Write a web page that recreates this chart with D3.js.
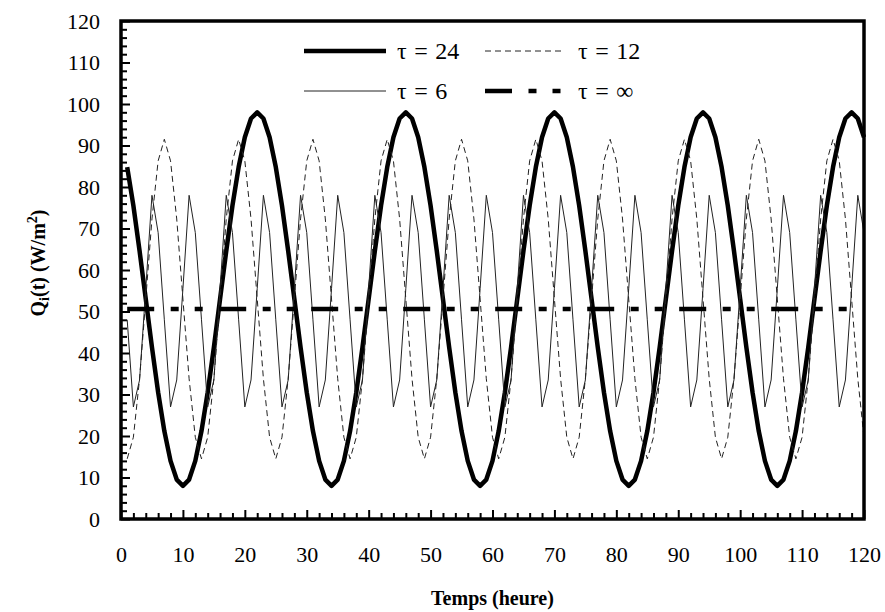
<!DOCTYPE html>
<html>
<head>
<meta charset="utf-8">
<script src="https://cdn.jsdelivr.net/npm/d3@7/dist/d3.min.js"></script>
<style>
    body { margin: 0; background: #fff; }
    svg { display: block; }
    text { font-family: "Liberation Serif", "Times New Roman", serif; fill: #000; }
</style>
</head>
<body>
<div id="chart"></div>
<script>
// temps en heures (un point par heure)
var hours = d3.range(1, 121);

// Qi(t) pour tau = 24 h
var tau24 = [
    84.8, 75.5, 64.6, 53.0, 41.4, 30.5, 21.2, 14.0, 9.5, 8.0, 9.5, 14.0, 21.2, 30.5, 41.4, 53.0, 64.6, 75.5, 84.8, 92.0, 96.5, 98.0, 96.5, 92.0,
    84.8, 75.5, 64.6, 53.0, 41.4, 30.5, 21.2, 14.0, 9.5, 8.0, 9.5, 14.0, 21.2, 30.5, 41.4, 53.0, 64.6, 75.5, 84.8, 92.0, 96.5, 98.0, 96.5, 92.0,
    84.8, 75.5, 64.6, 53.0, 41.4, 30.5, 21.2, 14.0, 9.5, 8.0, 9.5, 14.0, 21.2, 30.5, 41.4, 53.0, 64.6, 75.5, 84.8, 92.0, 96.5, 98.0, 96.5, 92.0,
    84.8, 75.5, 64.6, 53.0, 41.4, 30.5, 21.2, 14.0, 9.5, 8.0, 9.5, 14.0, 21.2, 30.5, 41.4, 53.0, 64.6, 75.5, 84.8, 92.0, 96.5, 98.0, 96.5, 92.0,
    84.8, 75.5, 64.6, 53.0, 41.4, 30.5, 21.2, 14.0, 9.5, 8.0, 9.5, 14.0, 21.2, 30.5, 41.4, 53.0, 64.6, 75.5, 84.8, 92.0, 96.5, 98.0, 96.5, 92.0
];

// tau = 12 h
var tau12 = [
    14.5, 19.7, 33.8, 53.0, 72.3, 86.3, 91.5, 86.3, 72.3, 53.0, 33.8, 19.7,
    14.5, 19.7, 33.8, 53.0, 72.3, 86.3, 91.5, 86.3, 72.3, 53.0, 33.8, 19.7,
    14.5, 19.7, 33.8, 53.0, 72.3, 86.3, 91.5, 86.3, 72.3, 53.0, 33.8, 19.7,
    14.5, 19.7, 33.8, 53.0, 72.3, 86.3, 91.5, 86.3, 72.3, 53.0, 33.8, 19.7,
    14.5, 19.7, 33.8, 53.0, 72.3, 86.3, 91.5, 86.3, 72.3, 53.0, 33.8, 19.7,
    14.5, 19.7, 33.8, 53.0, 72.3, 86.3, 91.5, 86.3, 72.3, 53.0, 33.8, 19.7,
    14.5, 19.7, 33.8, 53.0, 72.3, 86.3, 91.5, 86.3, 72.3, 53.0, 33.8, 19.7,
    14.5, 19.7, 33.8, 53.0, 72.3, 86.3, 91.5, 86.3, 72.3, 53.0, 33.8, 19.7,
    14.5, 19.7, 33.8, 53.0, 72.3, 86.3, 91.5, 86.3, 72.3, 53.0, 33.8, 19.7,
    14.5, 19.7, 33.8, 53.0, 72.3, 86.3, 91.5, 86.3, 72.3, 53.0, 33.8, 19.7
];

// tau = 6 h
var tau6 = [
    48, 27, 33.5, 55.5, 78, 69, 48, 27, 33.5, 55.5, 78, 69,
    48, 27, 33.5, 55.5, 78, 69, 48, 27, 33.5, 55.5, 78, 69,
    48, 27, 33.5, 55.5, 78, 69, 48, 27, 33.5, 55.5, 78, 69,
    48, 27, 33.5, 55.5, 78, 69, 48, 27, 33.5, 55.5, 78, 69,
    48, 27, 33.5, 55.5, 78, 69, 48, 27, 33.5, 55.5, 78, 69,
    48, 27, 33.5, 55.5, 78, 69, 48, 27, 33.5, 55.5, 78, 69,
    48, 27, 33.5, 55.5, 78, 69, 48, 27, 33.5, 55.5, 78, 69,
    48, 27, 33.5, 55.5, 78, 69, 48, 27, 33.5, 55.5, 78, 69,
    48, 27, 33.5, 55.5, 78, 69, 48, 27, 33.5, 55.5, 78, 69,
    48, 27, 33.5, 55.5, 78, 69, 48, 27, 33.5, 55.5, 78, 69
];

// tau = infini (constant)
var tauInf = [
    50.6, 50.6, 50.6, 50.6, 50.6, 50.6, 50.6, 50.6, 50.6, 50.6, 50.6, 50.6,
    50.6, 50.6, 50.6, 50.6, 50.6, 50.6, 50.6, 50.6, 50.6, 50.6, 50.6, 50.6,
    50.6, 50.6, 50.6, 50.6, 50.6, 50.6, 50.6, 50.6, 50.6, 50.6, 50.6, 50.6,
    50.6, 50.6, 50.6, 50.6, 50.6, 50.6, 50.6, 50.6, 50.6, 50.6, 50.6, 50.6,
    50.6, 50.6, 50.6, 50.6, 50.6, 50.6, 50.6, 50.6, 50.6, 50.6, 50.6, 50.6,
    50.6, 50.6, 50.6, 50.6, 50.6, 50.6, 50.6, 50.6, 50.6, 50.6, 50.6, 50.6,
    50.6, 50.6, 50.6, 50.6, 50.6, 50.6, 50.6, 50.6, 50.6, 50.6, 50.6, 50.6,
    50.6, 50.6, 50.6, 50.6, 50.6, 50.6, 50.6, 50.6, 50.6, 50.6, 50.6, 50.6,
    50.6, 50.6, 50.6, 50.6, 50.6, 50.6, 50.6, 50.6, 50.6, 50.6, 50.6, 50.6,
    50.6, 50.6, 50.6, 50.6, 50.6, 50.6, 50.6, 50.6, 50.6, 50.6, 50.6, 50.6
];

var xTicks = [0, 10, 20, 30, 40, 50, 60, 70, 80, 90, 100, 110, 120];
var yTicks = [0, 10, 20, 30, 40, 50, 60, 70, 80, 90, 100, 110, 120];
var legendLabels = ["τ = 24", "τ = 12", "τ = 6", "τ = ∞"];

var W = 885, H = 612;
var margin = { top: 21, right: 21, bottom: 93, left: 121 };
var serif = "'Liberation Serif', 'Times New Roman', serif";

var svg = d3.select("#chart").append("svg")
    .attr("width", W)
    .attr("height", H);

var x = d3.scaleLinear().domain([0, 120]).range([margin.left, W - margin.right]);
var y = d3.scaleLinear().domain([0, 120]).range([H - margin.bottom, margin.top]);

// styles des séries
var series = [
    { name: legendLabels[0], values: tau24, width: 4.5, dash: null, color: "#000" },
    { name: legendLabels[1], values: tau12, width: 1, dash: "6,4", color: "#222" },
    { name: legendLabels[2], values: tau6, width: 1, dash: null, color: "#222" },
    { name: legendLabels[3], values: tauInf, width: 4.5, dash: "27,16.5,8,16,8,16.5", color: "#000" }
];

//graduations secondaires (tous les 2)
var minor = d3.range(0, 121, 2).filter(function (d) { return d % 10 != 0; });

var gxMinor = svg.append("g")
    .attr("transform", "translate(0," + y(0) + ")")
    .call(d3.axisBottom(x).tickValues(minor).tickSize(-6).tickFormat(""));
var gyMinor = svg.append("g")
    .attr("transform", "translate(" + x(0) + ",0)")
    .call(d3.axisLeft(y).tickValues(minor).tickSize(-6).tickFormat(""));

var gx = svg.append("g")
    .attr("transform", "translate(0," + y(0) + ")")
    .call(d3.axisBottom(x).tickValues(xTicks).tickSize(-9).tickPadding(27));
var gy = svg.append("g")
    .attr("transform", "translate(" + x(0) + ",0)")
    .call(d3.axisLeft(y).tickValues(yTicks).tickSize(-9).tickPadding(21));

[gxMinor, gyMinor, gx, gy].forEach(function (g) {
    g.attr("font-family", null).attr("font-size", null);
    g.select(".domain").remove();
    g.selectAll(".tick line").attr("stroke", "#000").attr("stroke-width", 2);
    g.selectAll(".tick text")
        .style("font-size", "22px")
        .style("font-family", serif);
});

// courbes
var line = d3.line()
    .x(function (d) { return x(d.t); })
    .y(function (d) { return y(d.v); });

series.forEach(function (s) {
    var pts = hours.map(function (t, i) { return { t: t, v: s.values[i] }; });
    svg.append("path")
        .datum(pts)
        .attr("fill", "none")
        .attr("stroke", s.color)
        .attr("stroke-width", s.width)
        .attr("stroke-linejoin", "round")
        .attr("stroke-dasharray", s.dash)
        .attr("d", line);
});

// cadre
svg.append("rect")
    .attr("x", x(0))
    .attr("y", y(120))
    .attr("width", x(120) - x(0))
    .attr("height", y(0) - y(120))
    .attr("fill", "none")
    .attr("stroke", "#000")
    .attr("stroke-width", 3.5);

// légende
var legPos = [
    { x1: 304, x2: 386, tx: 397, y: 51 },
    { x1: 485, x2: 563, tx: 578, y: 51 },
    { x1: 304, x2: 386, tx: 397, y: 91 },
    { x1: 485, x2: 563, tx: 578, y: 91 }
];
series.forEach(function (s, i) {
    var p = legPos[i];
    svg.append("line")
        .attr("x1", p.x1).attr("x2", p.x2)
        .attr("y1", p.y).attr("y2", p.y)
        .attr("stroke", s.color)
        .attr("stroke-width", s.width)
        .attr("stroke-dasharray", s.dash);
    svg.append("text")
        .attr("x", p.tx)
        .attr("y", p.y + 8)
        .style("font-size", "24px")
        .style("word-spacing", "1.5px")
        .text(s.name);
});

// titres des axes
svg.append("text")
    .attr("x", (x(0) + x(120)) / 2)
    .attr("y", 605)
    .attr("text-anchor", "middle")
    .style("font-size", "20px")
    .style("font-weight", "bold")
    .text("Temps (heure)");

var yt = svg.append("text")
    .attr("transform", "translate(45,263) rotate(-90)")
    .attr("text-anchor", "middle")
    .style("font-size", "20px")
    .style("font-weight", "bold");
yt.append("tspan").text("Q");
yt.append("tspan").style("font-size", "14px").attr("dy", 4).text("i");
yt.append("tspan").attr("dy", -4).text("(t) (W/m");
yt.append("tspan").style("font-size", "14px").attr("dy", -8).text("2");
yt.append("tspan").attr("dy", 8).text(")");
</script>
</body>
</html>
